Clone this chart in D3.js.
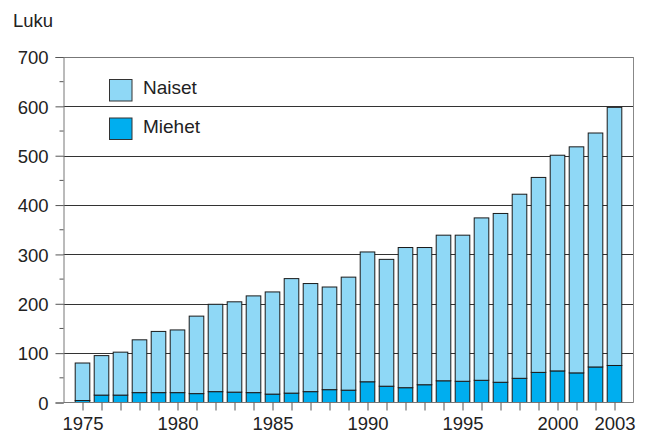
<!DOCTYPE html>
<html><head><meta charset="utf-8">
<script src="https://cdn.jsdelivr.net/npm/d3@7"></script>
<style>body{margin:0;background:#fff;} svg{display:block;font-family:"Liberation Sans",Arial,sans-serif;}</style>
</head><body>
<script>
const years = [1975,1976,1977,1978,1979,1980,1981,1982,1983,1984,1985,1986,1987,1988,1989,1990,1991,1992,1993,1994,1995,1996,1997,1998,1999,2000,2001,2002,2003];
const totals = [80,95,102,127,144,147,175,199,204,216,224,251,241,234,254,305,290,314,314,339,339,374,383,422,456,501,518,546,598];
const miehet = [4,15,15,20,20,20,18,22,21,20,17,19,22,26,25,42,33,30,36,44,43,45,41,49,61,64,60,72,75];
const naiset = totals.map((t,i)=>t-miehet[i]);
const yTicks = [0,100,200,300,400,500,600,700];
const xLabels = [1975,1980,1985,1990,1995,2000,2003];
const seriesNames = ["Naiset","Miehet"];
const colors = {Naiset:"#8fd8f6", Miehet:"#00aeef"};

const W=652,H=436;
const svg=d3.select("body").append("svg").attr("width",W).attr("height",H);
const L=63.5,R=633.5,T=57,B=402.5;
const x=d3.scaleLinear().domain([1974,2004]).range([L,R]);
const y=d3.scaleLinear().domain([0,700]).range([B,T]);
const bw=14.6;

// gridlines
svg.append("g").selectAll("line").data(yTicks.filter(d=>d>0)).join("line")
  .attr("x1",L).attr("x2",R).attr("y1",d=>Math.round(y(d))+0.5).attr("y2",d=>Math.round(y(d))+0.5)
  .attr("stroke",d=>d===700?"#777":"#333").attr("stroke-width",1);
// right border
svg.append("line").attr("x1",R).attr("x2",R).attr("y1",T).attr("y2",B).attr("stroke","#888");

// bars
const data=years.map((yr,i)=>({year:yr,Miehet:miehet[i],Naiset:naiset[i]}));
const stack=d3.stack().keys(["Miehet","Naiset"])(data);
svg.append("g").selectAll("g").data(stack).join("g")
  .attr("fill",d=>colors[d.key])
  .selectAll("rect").data(d=>d).join("rect")
  .attr("x",d=>x(d.data.year)-bw/2)
  .attr("width",bw)
  .attr("y",d=>y(d[1]))
  .attr("height",d=>y(d[0])-y(d[1]))
  .attr("stroke","#1a1a1a").attr("stroke-width",1);

// left axis
const ya=d3.axisLeft(y).tickValues(yTicks).tickSize(8).tickFormat(d3.format("d"));
const gy=svg.append("g").attr("transform",`translate(${L},0)`).call(ya);
gy.select(".domain").attr("stroke","#777");
gy.selectAll(".tick line").attr("stroke","#555");
gy.selectAll(".tick text").attr("font-size",18.5).attr("fill","#222").attr("x",-15).attr("dy","0.36em");
// minor ticks
svg.append("g").selectAll("line").data(d3.range(50,700,100)).join("line")
  .attr("x1",L-4).attr("x2",L).attr("y1",d=>y(d)).attr("y2",d=>y(d)).attr("stroke","#555");

// bottom axis
const xa=d3.axisBottom(x).tickValues(years).tickSize(8).tickFormat(d=>xLabels.includes(d)?String(d):"");
const gx=svg.append("g").attr("transform",`translate(0,${B})`).call(xa);
gx.select(".domain").attr("stroke","#777").attr("d",`M${L},0H${R}`);
gx.selectAll(".tick line").attr("stroke","#555");
gx.selectAll(".tick text").attr("font-size",18.5).attr("fill","#222").attr("y",14);

// y title
svg.append("text").attr("x",13).attr("y",27).attr("font-size",18.5).attr("fill","#222").text("Luku");

// legend
const lg=svg.append("g");
seriesNames.forEach((n,i)=>{
  const yy=79+i*38.5;
  lg.append("rect").attr("x",109.5).attr("y",yy+0.5).attr("width",22.5).attr("height",21.5)
    .attr("fill",colors[n]).attr("stroke","#333").attr("stroke-width",1);
  lg.append("text").attr("x",143).attr("y",yy+15).attr("font-size",19).attr("fill","#222").text(n);
});
</script>
</body></html>
